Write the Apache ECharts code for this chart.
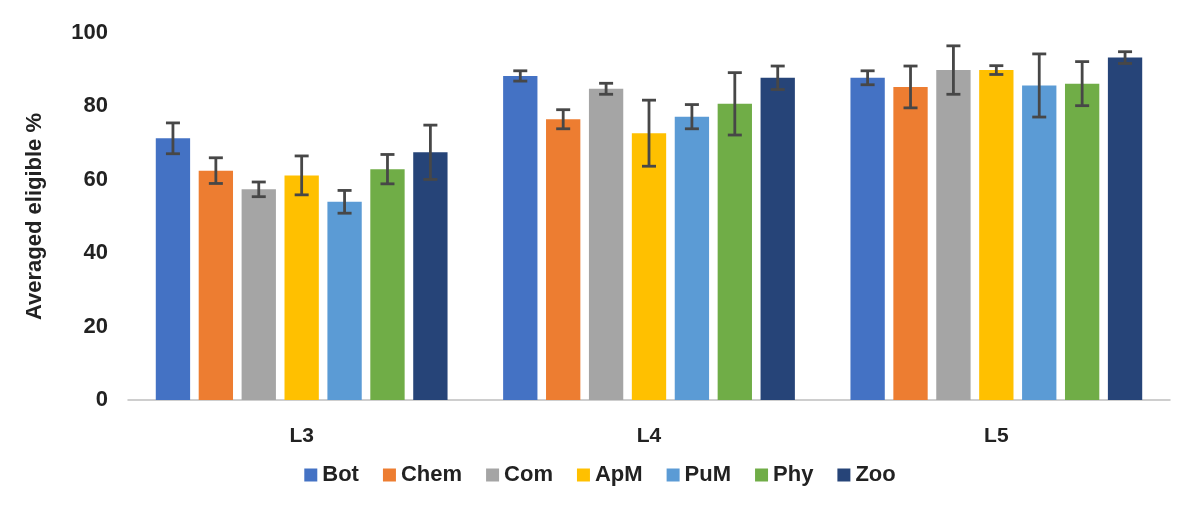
<!DOCTYPE html>
<html>
<head>
<meta charset="utf-8">
<script src="https://cdn.jsdelivr.net/npm/echarts@6/dist/echarts.min.js"></script>
<style>html,body{margin:0;background:#fff}#chart{width:1200px;height:515px}</style>
</head>
<body>
<div id="chart"></div>
<script>
// 分组与系列
const levels = ['L3', 'L4', 'L5'];
const groups = ['Bot', 'Chem', 'Com', 'ApM', 'PuM', 'Phy', 'Zoo'];
const colors = ['#4472c4', '#ed7d31', '#a5a5a5', '#ffc000', '#5b9bd5', '#70ad47', '#264478'];

const Bot  = [71.3, 88.3, 87.8];
const Chem = [62.5, 76.5, 85.3];
const Com  = [57.4, 84.8, 89.9];
const ApM  = [61.2, 72.7, 89.9];
const PuM  = [54.0, 77.2, 85.7];
const Phy  = [62.9, 80.7, 86.2];
const Zoo  = [67.5, 87.8, 93.3];

const errBot  = [4.2, 1.4, 1.9];
const errChem = [3.5, 2.6, 5.7];
const errCom  = [2.0, 1.5, 6.6];
const errApM  = [5.3, 9.0, 1.2];
const errPuM  = [3.1, 3.3, 8.6];
const errPhy  = [4.0, 8.5, 6.0];
const errZoo  = [7.4, 3.2, 1.6];

const values = [Bot, Chem, Com, ApM, PuM, Phy, Zoo];
const errors = [errBot, errChem, errCom, errApM, errPuM, errPhy, errZoo];

const chart = echarts.init(document.getElementById('chart'));
const font = 'Liberation Sans, Arial, sans-serif';
const n = groups.length;
const barGap = 0.25, catGap = 0.16;

const series = [];
groups.forEach((g, i) => {
  series.push({
    name: g, type: 'bar', data: values[i], barGap: '25%', barCategoryGap: '16%',
    itemStyle: { color: colors[i] }
  });
});
// 误差线
groups.forEach((g, i) => {
  series.push({
    type: 'custom', name: g + '_err', silent: true, z: 10,
    data: levels.map((_, j) => [j, values[i][j] - errors[i][j], values[i][j] + errors[i][j]]),
    renderItem: (params, api) => {
      const bw = api.size([1, 0])[0];
      const inner = bw * (1 - catGap);
      const w = inner / (n + (n - 1) * barGap);
      const start = api.coord([api.value(0), 0])[0] - inner / 2;
      const x = start + i * w * (1 + barGap) + w / 2;
      const lo = api.coord([api.value(0), api.value(1)])[1];
      const hi = api.coord([api.value(0), api.value(2)])[1];
      const st = { stroke: '#474747', lineWidth: 2.8 };
      const cap = 7;
      return { type: 'group', children: [
        { type: 'line', shape: { x1: x, y1: lo, x2: x, y2: hi }, style: st },
        { type: 'line', shape: { x1: x - cap, y1: lo, x2: x + cap, y2: lo }, style: st },
        { type: 'line', shape: { x1: x - cap, y1: hi, x2: x + cap, y2: hi }, style: st }
      ]};
    }
  });
});

chart.setOption({
  animation: false,
  grid: { left: 128, right: 30, top: 33, bottom: 115 },
  legend: {
    data: groups, bottom: 24, left: 'center', itemWidth: 13, itemHeight: 13, itemGap: 24,
    icon: 'rect', textStyle: { fontFamily: font, fontWeight: 'bold', fontSize: 22, color: '#222' }
  },
  xAxis: {
    type: 'category', data: levels,
    axisLine: { lineStyle: { color: '#bfbfbf', width: 1.5 } },
    axisTick: { show: false },
    axisLabel: { fontFamily: font, fontWeight: 'bold', fontSize: 21, color: '#222', margin: 26 }
  },
  yAxis: {
    type: 'value', min: 0, max: 100, interval: 20,
    name: 'Averaged eligible %', nameLocation: 'middle', nameGap: 82,
    nameTextStyle: { fontFamily: font, fontWeight: 'bold', fontSize: 22, color: '#222' },
    axisLine: { show: false }, axisTick: { show: false }, splitLine: { show: false },
    axisLabel: { fontFamily: font, fontWeight: 'bold', fontSize: 22, color: '#222', margin: 20 }
  },
  series
});
</script>
</body>
</html>
